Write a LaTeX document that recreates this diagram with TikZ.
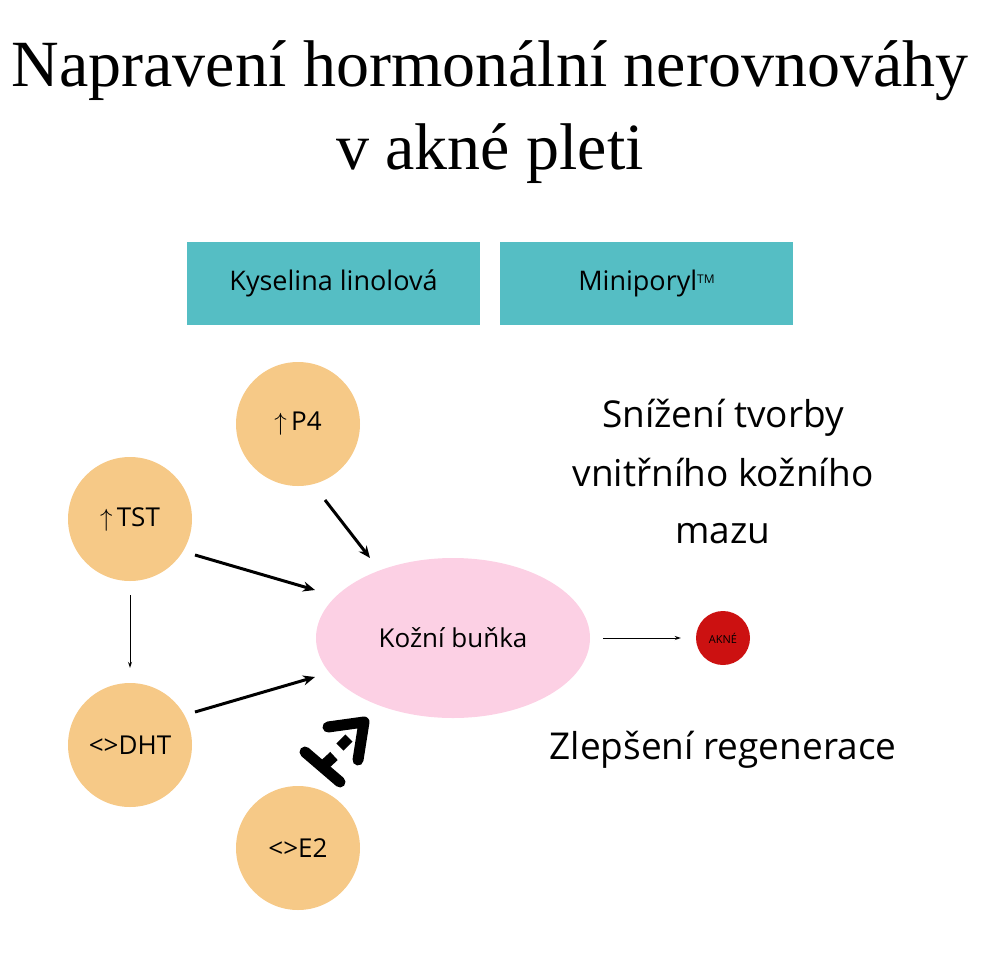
\documentclass[tikz,border=0pt]{standalone}
\usepackage{fontspec}
\setmainfont{Open Sans}
\newfontfamily\titlefont{Liberation Serif}
\usetikzlibrary{arrows.meta,shapes.geometric}
\definecolor{teal1}{HTML}{55BEC4}
\definecolor{orng}{HTML}{F6C987}
\definecolor{pnk}{HTML}{FCD0E4}
\definecolor{rd}{HTML}{CC1111}
\tikzset{
 hcirc/.style={circle,fill=orng,minimum size=124pt,inner sep=0pt,font=\fontsize{26}{30}\selectfont},
 tbox/.style={rectangle,fill=teal1,minimum width=293pt,minimum height=83pt,font=\fontsize{27}{30}\selectfont},
 arr/.style={-{Stealth[length=12pt,width=10pt]},line width=3pt},
 thin/.style={-{Stealth[length=6pt,width=4pt]},line width=1pt},
 rtext/.style={align=center,font=\fontsize{37}{58}\selectfont}
}
\begin{document}
\begin{tikzpicture}[x=1pt,y=-1pt]
\useasboundingbox (0,0) rectangle (980,980);
\node[font=\titlefont\fontsize{66}{83}\selectfont,align=center] (title) at (490,112) {Napravení hormonální nerovnováhy\\v akné pleti};
\node[tbox] (b1) at (333.5,283.5) {Kyselina linolová};
\node[tbox] (b2) at (646.5,283.5) {Miniporyl\raisebox{7pt}{\fontsize{12}{12}\selectfont TM}};
\node[hcirc] (p4) at (298,424) {$\uparrow$\,P4};
\node[hcirc] (tst) at (130,519) {$\uparrow$\,TST};
\node[hcirc] (dht) at (130,745) {<>DHT};
\node[hcirc] (e2) at (298,848) {<>E2};
\node[ellipse,fill=pnk,minimum width=274pt,minimum height=160pt,font=\fontsize{26}{30}\selectfont] (cell) at (453,638) {Kožní buňka};
\node[circle,fill=rd,minimum size=54pt,inner sep=0pt,font=\fontsize{11}{12}\selectfont] (akne) at (723,638) {AKNÉ};
\coordinate (p4a) at (325,500); \coordinate (p4b) at (370,558);
\coordinate (ta) at (195,555); \coordinate (tb) at (315,590);
\coordinate (da) at (195,712); \coordinate (db) at (315,677);
\draw[arr] (p4a) -- (p4b);
\draw[arr] (ta) -- (tb);
\draw[arr] (da) -- (db);
\draw[thin] ([yshift=-14pt]tst.south) -- ([yshift=15pt]dht.north);
\draw[thin] ([xshift=13pt]cell.east) -- ([xshift=-15pt]akne.west);
% thick blocked arrow
\draw[line width=11pt,line cap=round] (305,752) -- (340,782);
\draw[line width=11pt] (321,768) -- (334,756);
\draw[line width=10pt] (340,747) -- (349,738);
\draw[line width=11pt,line cap=round,line join=round] (328,727) -- (364,722) -- (358,760);
\node[rtext] (t1) at (723,472) {Snížení tvorby\\vnitřního kožního\\mazu};
\node[rtext] (t2) at (723,750) {Zlepšení regenerace};
\end{tikzpicture}
\end{document}
